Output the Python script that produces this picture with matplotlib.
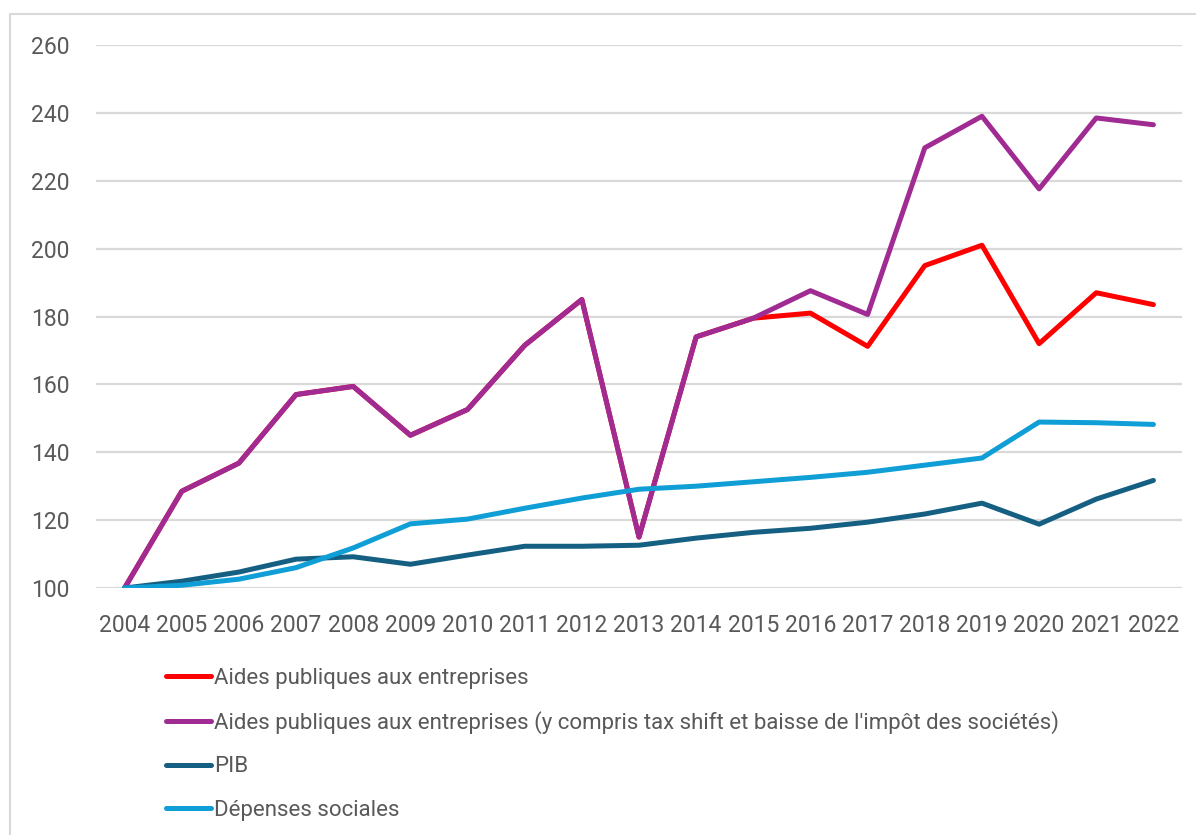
import numpy as np
import matplotlib.pyplot as plt
from matplotlib.patches import Rectangle

plt.rcParams['font.family'] = ['Roboto', 'DejaVu Sans']

# Data (index, base 100 in 2004)
years = [str(y) for y in range(2004, 2023)]
aides = [100, 128.5, 136.8, 157, 159.4, 145, 152.6, 171.5, 185, 115,
         174, 179.5, 181, 171.2, 195, 201, 172, 187, 183.5]
aides_tax = [100, 128.5, 136.8, 157, 159.4, 145, 152.6, 171.5, 185, 115,
             174, 179.5, 187.6, 180.6, 229.7, 239, 217.6, 238.5, 236.5]
pib = [100, 102, 104.7, 108.5, 109.2, 107, 109.7, 112.3, 112.3, 112.6,
       114.7, 116.4, 117.6, 119.4, 121.8, 125, 118.8, 126.2, 131.7]
depenses = [100, 100.8, 102.6, 106, 111.8, 118.9, 120.3, 123.5, 126.5, 129.1,
            130, 131.3, 132.6, 134.1, 136.2, 138.3, 148.9, 148.7, 148.2]

labels = ["Aides publiques aux entreprises",
          "Aides publiques aux entreprises (y compris tax shift et baisse de l'impôt des sociétés)",
          "PIB",
          "Dépenses sociales"]
colors = ['#FF0000', '#A02B93', '#156082', '#0F9ED5']

fig = plt.figure(figsize=(11.96, 8.35), dpi=100)
ax = fig.add_axes([96/1196, 1-588/835, (1182-96)/1196, (588-45)/835])

x = np.arange(len(years))
series = [aides, aides_tax, pib, depenses]
handles = []
for s, c in zip(series, colors):
    h, = ax.plot(x, s, color=c, lw=3.6, solid_joinstyle='round', solid_capstyle='round')
    handles.append(h)

ax.set_xlim(-0.5, len(years)-0.5)
ax.set_ylim(100, 260)
ax.set_yticks(np.arange(100, 261, 20))
ax.set_xticks(x)
ax.set_xticklabels(years)
ax.grid(axis='y', color='#D9D9D9', lw=1.6)
ax.set_axisbelow(True)
for sp in ax.spines.values():
    sp.set_visible(False)
ax.tick_params(axis='both', length=0, labelsize=16.5, colors='#595959')
ax.tick_params(axis='y', pad=19)
ax.tick_params(axis='x', pad=19)

# Chart frame (partly visible)
fig.patches.append(Rectangle((10/1196, -0.1), 1.2, 1-14/835+0.1, transform=fig.transFigure,
                             fill=False, edgecolor='#D9D9D9', lw=1.5))

leg = fig.legend(handles, labels, loc='upper left', bbox_to_anchor=(157/1196, 1-659/835),
                 frameon=False, fontsize=16, handlelength=2.05, handletextpad=0.1,
                 labelspacing=1.0, borderaxespad=0)
for t in leg.get_texts():
    t.set_color('#595959')

fig.savefig('out.png', dpi=100)
